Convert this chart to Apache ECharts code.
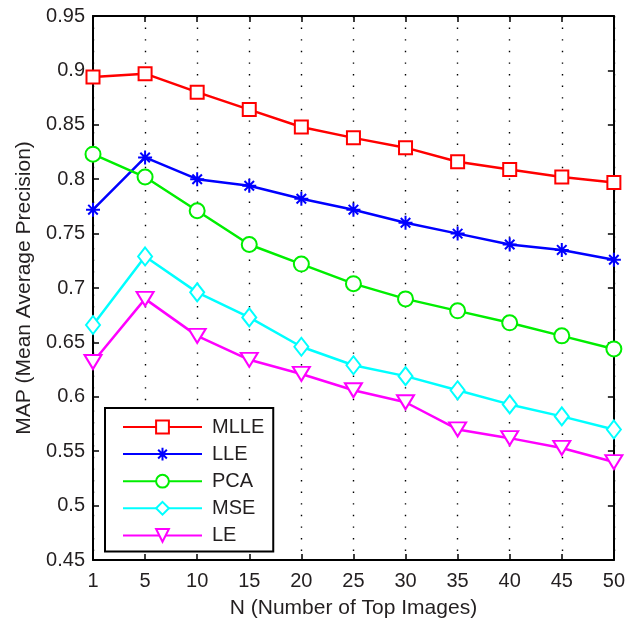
<!DOCTYPE html>
<html>
<head>
<meta charset="utf-8">
<script src="https://cdn.jsdelivr.net/npm/echarts@6/dist/echarts.min.js"></script>
<style>
html,body{margin:0;padding:0;background:#fff;}
#c{width:628px;height:624px;}
</style>
</head>
<body>
<div id="c"></div>
<script>
var categories = ['1','5','10','15','20','25','30','35','40','45','50'];
var seriesNames = ['MLLE','LLE','PCA','MSE','LE'];
var mlle = [0.894, 0.897, 0.880, 0.864, 0.848, 0.838, 0.829, 0.816, 0.809, 0.802, 0.797];
var lle  = [0.772, 0.820, 0.800, 0.794, 0.782, 0.772, 0.760, 0.750, 0.740, 0.735, 0.726];
var pca  = [0.823, 0.802, 0.771, 0.740, 0.722, 0.704, 0.690, 0.679, 0.668, 0.656, 0.644];
var mse  = [0.666, 0.729, 0.696, 0.673, 0.646, 0.629, 0.619, 0.606, 0.593, 0.582, 0.570];
var le   = [0.632, 0.690, 0.656, 0.634, 0.621, 0.606, 0.595, 0.570, 0.562, 0.553, 0.540];
var yMin = 0.45, yMax = 0.95, yStep = 0.05;
var xTitle = 'N (Number of Top Images)';
var yTitle = 'MAP (Mean Average Precision)';

var FONT = "'Liberation Sans', Arial, sans-serif";
var TXT = '#231f20';
var asterisk = 'path://M0,5L10,5M5,0L5,10M1.6,1.6L8.4,8.4M1.6,8.4L8.4,1.6';

function mk(name, data, color, symbol, size, rotate) {
  return {
    name: name, type: 'line', data: data,
    symbol: symbol, symbolSize: size, symbolRotate: rotate || 0,
    showAllSymbol: true,
    lineStyle: {color: color, width: 2.5},
    itemStyle: {color: color, borderColor: color, borderWidth: 2},
    emphasis: {disabled: true},
    animation: false
  };
}

var chart = echarts.init(document.getElementById('c'), null, {renderer: 'canvas'});
var axisLine = {show: true, lineStyle: {color: '#000', width: 2}};
chart.setOption({
  animation: false,
  backgroundColor: '#fff',
  textStyle: {fontFamily: FONT},
  grid: {left: 93, right: 13, top: 16, bottom: 59, containLabel: false},
  legend: {
    orient: 'vertical', left: 105, top: 408,
    backgroundColor: '#fff', borderColor: '#000', borderWidth: 2, borderRadius: 0,
    padding: [9, 9, 6, 17],
    itemWidth: 79, itemHeight: 16, itemGap: 7.1,
    textStyle: {fontSize: 20, color: TXT, fontFamily: FONT, padding: [0, 0, 0, 5]},
    data: seriesNames
  },
  xAxis: [{
    type: 'category', data: categories, boundaryGap: false, position: 'bottom',
    name: xTitle, nameLocation: 'middle', nameGap: 38,
    nameTextStyle: {fontSize: 21, color: TXT, fontFamily: FONT},
    axisLine: axisLine,
    axisTick: {show: true, inside: true, length: 6, lineStyle: {color: '#000', width: 1.5}},
    axisLabel: {fontSize: 20, color: TXT, margin: 11, fontFamily: FONT, interval: 0},
    splitLine: {show: true, lineStyle: {color: '#000', width: 1.4, type: [1.4, 10.2]}}
  }, {
    type: 'category', data: categories, boundaryGap: false, position: 'top',
    axisLine: axisLine,
    axisTick: {show: true, inside: true, length: 6, lineStyle: {color: '#000', width: 1.5}},
    axisLabel: {show: false}, splitLine: {show: false}
  }],
  yAxis: [{
    type: 'value', min: yMin, max: yMax, interval: yStep, position: 'left',
    name: yTitle, nameLocation: 'middle', nameGap: 56,
    nameTextStyle: {fontSize: 21, color: TXT, fontFamily: FONT},
    axisLine: axisLine,
    axisTick: {show: true, inside: true, length: 6, lineStyle: {color: '#000', width: 1.5}},
    axisLabel: {fontSize: 20, color: TXT, margin: 8, fontFamily: FONT},
    splitLine: {show: false}
  }, {
    type: 'value', min: yMin, max: yMax, interval: yStep, position: 'right',
    axisLine: axisLine,
    axisTick: {show: true, inside: true, length: 6, lineStyle: {color: '#000', width: 1.5}},
    axisLabel: {show: false}, splitLine: {show: false}
  }],
  series: [
    mk('MLLE', mlle, '#ff0000', 'emptyRect', 13),
    mk('LLE', lle, '#0000ff', asterisk, 14),
    mk('PCA', pca, '#00ee00', 'emptyCircle', 15),
    mk('MSE', mse, '#00ffff', 'emptyDiamond', [14, 18]),
    mk('LE', le, '#ff00ff', 'emptyTriangle', [17, 14], 180)
  ]
});
</script>
</body>
</html>
